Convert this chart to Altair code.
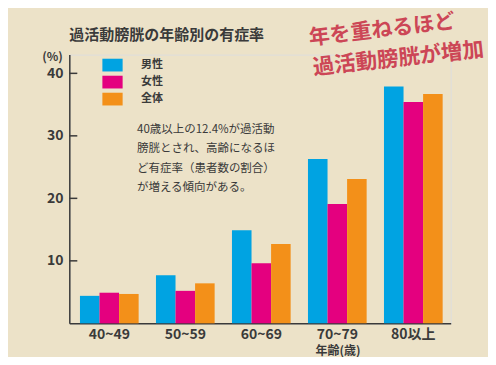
import altair as alt
import pandas as pd

# ---- data ----
ages = ["40~49", "50~59", "60~69", "70~79", "80以上"]
series = ["男性", "女性", "全体"]
male = [4.4, 7.7, 14.9, 26.3, 37.9]
female = [4.9, 5.2, 9.6, 19.1, 35.4]
total = [4.7, 6.4, 12.7, 23.1, 36.7]
y_ticks = [10, 20, 30, 40]
colors = ["#00A3E2", "#E4007F", "#F39019"]

title_text = "過活動膀胱の年齢別の有症率"
note_lines = [
    "40歳以上の12.4%が過活動",
    "膀胱とされ、高齢になるほ",
    "ど有症率（患者数の割合）",
    "が増える傾向がある。",
]
headline = ["年を重ねるほど", "過活動膀胱が増加"]

rows = []
for s, vals in zip(series, [male, female, total]):
    for a, v in zip(ages, vals):
        rows.append({"age": a, "series": s, "value": v})
df = pd.DataFrame(rows)

FONT = "Noto Sans CJK JP"
INK = "#3a3a3a"
BG = "#ECE2C8"
RED = "#CC4656"

W = 381.4
H = 268.75

bars = alt.Chart(df).mark_bar().encode(
    x=alt.X(
        "age:N",
        sort=ages,
        scale=alt.Scale(paddingInner=0.228, paddingOuter=0.123, align=0.57),
        axis=alt.Axis(
            title="年齢(歳)",
            labelAngle=0,
            ticks=False,
            domainColor=INK,
            domainWidth=1.5,
            labelFontSize=14,
            labelFontWeight="bold",
            labelColor=INK,
            labelPadding=4,
            titleX=268.2,
            titleY=27.5,
            titleAlign="center",
            titleBaseline="middle",
            titleFontSize=12,
            titleFontWeight="bold",
            titleColor=INK,
        ),
    ),
    xOffset=alt.XOffset(
        "series:N", sort=series, scale=alt.Scale(paddingInner=0, paddingOuter=0)
    ),
    y=alt.Y(
        "value:Q",
        scale=alt.Scale(domain=[0, 43], nice=False),
        axis=alt.Axis(
            values=y_ticks,
            grid=False,
            ticks=False,
            domainColor=INK,
            domainWidth=1.5,
            labelFontSize=14,
            labelFontWeight="bold",
            labelColor=INK,
            labelPadding=6.3,
            title="(%)",
            titleAngle=0,
            titleX=-7,
            titleY=1.5,
            titleAlign="right",
            titleBaseline="middle",
            titleFontSize=12,
            titleFontWeight="bold",
            titleColor=INK,
        ),
    ),
    color=alt.Color(
        "series:N",
        sort=series,
        scale=alt.Scale(domain=series, range=colors),
        legend=alt.Legend(
            title=None,
            orient="none",
            legendX=32.7,
            legendY=0,
            symbolType="M-1,-0.63H1V0.63H-1Z",
            symbolSize=410,
            symbolStrokeWidth=0,
            symbolOpacity=1,
            labelFontSize=11,
            labelFontWeight="bold",
            labelColor=INK,
            labelOffset=18,
            rowPadding=-0.5,
            padding=0,
        ),
    ),
)

ticks = alt.Chart(pd.DataFrame({"value": y_ticks})).mark_rule(
    color=INK, strokeWidth=1.5
).encode(
    y=alt.Y("value:Q"),
    x=alt.value(0),
    x2=alt.value(8),
)

one = pd.DataFrame({"k": [0]})

title_mark = alt.Chart(one).mark_text(
    text=title_text,
    fontSize=15,
    fontWeight="bold",
    color=INK,
    align="left",
    baseline="middle",
).encode(x=alt.value(0), y=alt.value(-19.6))

note_mark = alt.Chart(one).mark_text(
    text=note_lines,
    fontSize=11.5,
    color=INK,
    align="left",
    baseline="top",
    lineHeight=19.3,
).encode(x=alt.value(67.7), y=alt.value(69.4))

red1 = alt.Chart(one).mark_text(
    text=headline[0],
    fontSize=21,
    fontWeight="bold",
    color=RED,
    align="center",
    baseline="middle",
    angle=353.3,
).encode(x=alt.value(312.7), y=alt.value(-24.2))

red2 = alt.Chart(one).mark_text(
    text=headline[1],
    fontSize=21.5,
    fontWeight="bold",
    color=RED,
    align="center",
    baseline="middle",
    angle=353.8,
).encode(x=alt.value(329.2), y=alt.value(4.8))

chart = (
    alt.layer(bars, ticks, title_mark, note_mark, red1, red2)
    .properties(
        width=W,
        height=H,
        autosize="none",
        padding={"left": 61.3, "top": 46.6, "right": 37.3, "bottom": 33.6},
        background=BG,
    )
    .configure_view(stroke=None)
    .configure(font=FONT)
)

chart.save("out.html", embed_options={"renderer": "svg", "actions": False})
